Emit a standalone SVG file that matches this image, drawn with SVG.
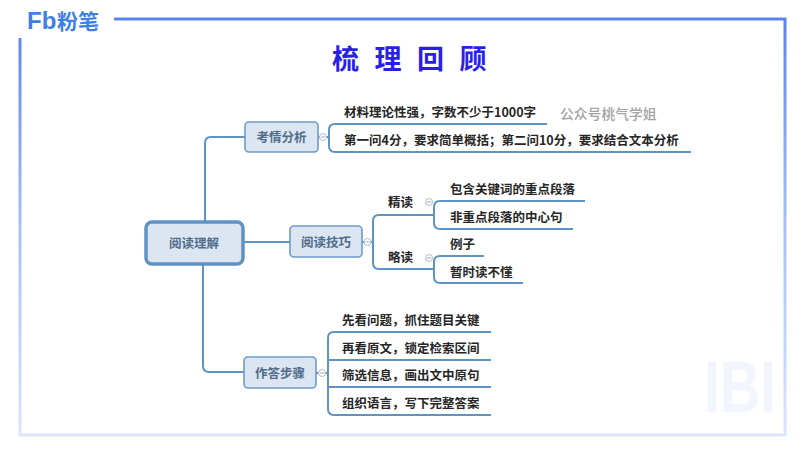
<svg xmlns="http://www.w3.org/2000/svg" width="800" height="450" viewBox="0 0 800 450">
<defs>
<linearGradient id="frameGrad" gradientUnits="userSpaceOnUse" x1="0" y1="19" x2="0" y2="436">
<stop offset="0" stop-color="#5b85ea"/><stop offset="0.5" stop-color="#a9c0f5"/><stop offset="1" stop-color="#dbe5fa"/>
</linearGradient>
</defs>
<style>
text{font-family:"Noto Sans CJK SC","Liberation Sans",sans-serif}
.t{font-size:12.5px;font-weight:700;fill:#262626}
.n{font-size:12.5px;font-weight:700;fill:#4f6c8a;text-anchor:middle}
.box{fill:#dce6f2;stroke:#6d9bc9;stroke-width:1.6}
.c{fill:none;stroke:#5f93c4;stroke-width:2}
.cl{fill:#fff;stroke:#aebccb;stroke-width:1}
.m{stroke:#9aa8b6;stroke-width:1}
</style>
<rect width="800" height="450" fill="#fff"/>
<g id="frame" fill="none" stroke="url(#frameGrad)" stroke-width="3">
<path d="M114 19H785V435H20V38"/>
</g>
<g id="logo" fill="#3f7fe6" font-weight="700">
<text x="27" y="29" font-size="24" style="font-family:'Liberation Sans',sans-serif">Fb</text>
<text x="57" y="29" font-size="21">粉笔</text>
</g>
<g id="title" fill="#2a1fe8" font-size="27" font-weight="700">
<text x="332 374.500 417 459.500" y="69">梳理回顾</text>
</g>
<text id="watermark" x="560" y="119" font-size="13.800" font-weight="500" fill="#a3a3a3">公众号桃气学姐</text>
<text id="corner-mark" x="704" y="412" font-size="72" font-weight="700" textLength="72" lengthAdjust="spacingAndGlyphs" fill="#f2f5fd" style="font-family:'Liberation Sans',sans-serif">IBI</text>
<g id="connectors">
<path class="c" d="M205 221V143Q205 137 211 137H245"/>
<path class="c" d="M244 242H290"/>
<path class="c" d="M203 265V366Q203 372 209 372H244"/>
<path class="c" d="M547 124H335Q329 124 329 130V146Q329 152 335 152H691"/>
<path class="c" d="M362 242H373"/>
<path class="c" d="M434 215H379Q373 215 373 221V263Q373 269 379 269H434"/>
<path class="c" d="M585 201H440Q434 201 434 207V223Q434 229 440 229H573"/>
<path class="c" d="M484 256H440Q434 256 434 262V277Q434 283 440 283H523"/>
<path class="c" d="M316 373H328"/>
<path class="c" d="M491 332H334Q328 332 328 338V409Q328 415 334 415H491M328 360H491M328 387H491"/>
<path class="c" d="M318 137H329"/>
</g>
<g id="node-root"><rect x="146" y="222" width="97" height="42" rx="6" fill="#dce6f2" stroke="#5f93c4" stroke-width="3.500"/><text class="n" x="194" y="248">阅读理解</text></g>
<g id="node-exam"><rect class="box" x="245" y="122" width="73" height="30" rx="4"/><text class="n" x="281.500" y="142">考情分析</text></g>
<g id="node-skill"><rect class="box" x="290" y="226" width="72" height="31" rx="4"/><text class="n" x="326" y="247">阅读技巧</text></g>
<g id="node-steps"><rect class="box" x="244" y="357" width="72" height="31" rx="4"/><text class="n" x="280" y="378">作答步骤</text></g>
<g id="collapse">
<circle class="cl" cx="323" cy="137" r="3.500"/><path class="m" d="M321 137H325"/>
<circle class="cl" cx="367.500" cy="242" r="3.500"/><path class="m" d="M365.500 242H369.500"/>
<circle class="cl" cx="429" cy="202" r="3.500"/><path class="m" d="M427 202H431"/>
<circle class="cl" cx="429" cy="258" r="3.500"/><path class="m" d="M427 258H431"/>
<circle class="cl" cx="322" cy="373" r="3.500"/><path class="m" d="M320 373H324"/>
</g>
<g id="labels">
<text class="t" x="344" y="117">材料理论性强，字数不少于1000字</text>
<text class="t" x="344" y="145">第一问4分，要求简单概括；第二问10分，要求结合文本分析</text>
<text class="t" x="388" y="207">精读</text>
<text class="t" x="388" y="262">略读</text>
<text class="t" x="450" y="194">包含关键词的重点段落</text>
<text class="t" x="450" y="222">非重点段落的中心句</text>
<text class="t" x="450" y="249">例子</text>
<text class="t" x="450" y="277">暂时读不懂</text>
<text class="t" x="342" y="325">先看问题，抓住题目关键</text>
<text class="t" x="342" y="353">再看原文，锁定检索区间</text>
<text class="t" x="342" y="380">筛选信息，画出文中原句</text>
<text class="t" x="342" y="408">组织语言，写下完整答案</text>
</g>
</svg>
